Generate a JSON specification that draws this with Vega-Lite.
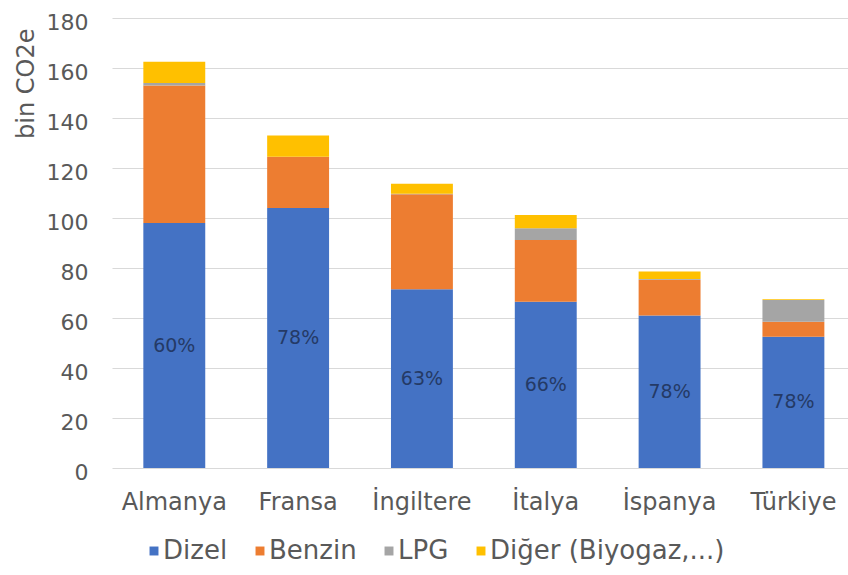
{
  "$schema": "https://vega.github.io/schema/vega-lite/v6.json",
  "width": 736,
  "height": 450,
  "autosize": {"type": "none"},
  "padding": {"left": 112, "top": 18, "right": 0, "bottom": 107},
  "background": "white",
  "config": {
    "view": {"stroke": null},
    "font": "DejaVu Sans"
  },
  "data": {
    "values": [
      {"ulke": "Almanya", "yakit": "Dizel", "sira": 1, "deger": 98, "pay": "60%"},
      {"ulke": "Almanya", "yakit": "Benzin", "sira": 2, "deger": 55},
      {"ulke": "Almanya", "yakit": "LPG", "sira": 3, "deger": 1},
      {"ulke": "Almanya", "yakit": "Diğer (Biyogaz,...)", "sira": 4, "deger": 8.5},
      {"ulke": "Fransa", "yakit": "Dizel", "sira": 1, "deger": 104, "pay": "78%"},
      {"ulke": "Fransa", "yakit": "Benzin", "sira": 2, "deger": 20.5},
      {"ulke": "Fransa", "yakit": "LPG", "sira": 3, "deger": 0},
      {"ulke": "Fransa", "yakit": "Diğer (Biyogaz,...)", "sira": 4, "deger": 8.5},
      {"ulke": "İngiltere", "yakit": "Dizel", "sira": 1, "deger": 71.5, "pay": "63%"},
      {"ulke": "İngiltere", "yakit": "Benzin", "sira": 2, "deger": 38},
      {"ulke": "İngiltere", "yakit": "LPG", "sira": 3, "deger": 0.2},
      {"ulke": "İngiltere", "yakit": "Diğer (Biyogaz,...)", "sira": 4, "deger": 4},
      {"ulke": "İtalya", "yakit": "Dizel", "sira": 1, "deger": 66.5, "pay": "66%"},
      {"ulke": "İtalya", "yakit": "Benzin", "sira": 2, "deger": 24.7},
      {"ulke": "İtalya", "yakit": "LPG", "sira": 3, "deger": 4.7},
      {"ulke": "İtalya", "yakit": "Diğer (Biyogaz,...)", "sira": 4, "deger": 5.3},
      {"ulke": "İspanya", "yakit": "Dizel", "sira": 1, "deger": 61, "pay": "78%"},
      {"ulke": "İspanya", "yakit": "Benzin", "sira": 2, "deger": 14.3},
      {"ulke": "İspanya", "yakit": "LPG", "sira": 3, "deger": 0.3},
      {"ulke": "İspanya", "yakit": "Diğer (Biyogaz,...)", "sira": 4, "deger": 3},
      {"ulke": "Türkiye", "yakit": "Dizel", "sira": 1, "deger": 52.5, "pay": "78%"},
      {"ulke": "Türkiye", "yakit": "Benzin", "sira": 2, "deger": 6},
      {"ulke": "Türkiye", "yakit": "LPG", "sira": 3, "deger": 8.7},
      {"ulke": "Türkiye", "yakit": "Diğer (Biyogaz,...)", "sira": 4, "deger": 0.3}
    ]
  },
  "encoding": {
    "x": {
      "field": "ulke",
      "type": "nominal",
      "sort": null,
      "scale": {"paddingInner": 0.5, "paddingOuter": 0.222, "align": 0.57},
      "axis": {
        "title": null,
        "domain": false,
        "ticks": false,
        "labelAngle": 0,
        "labelFontSize": 24,
        "labelColor": "#595959",
        "labelPadding": 22
      }
    }
  },
  "resolve": {"scale": {"y": "independent"}},
  "layer": [
    {
      "mark": {"type": "bar"},
      "encoding": {
        "y": {
          "field": "deger",
          "type": "quantitative",
          "stack": "zero",
          "scale": {"domain": [0, 180], "nice": false},
          "axis": {
            "title": "bin CO2e",
            "values": [0, 20, 40, 60, 80, 100, 120, 140, 160, 180],
            "domain": false,
            "ticks": false,
            "grid": true,
            "gridColor": "#d9d9d9",
            "gridWidth": 1.2,
            "labelFontSize": 22,
            "labelColor": "#595959",
            "labelPadding": 24,
            "labelOffset": 4,
            "titleFontSize": 24,
            "titleFontWeight": "normal",
            "titleColor": "#595959",
            "titleAngle": -90,
            "titleAlign": "right",
            "titleBaseline": "alphabetic",
            "titleX": -79,
            "titleY": 10
          }
        },
        "order": {"field": "sira", "type": "quantitative", "sort": "ascending"},
        "color": {
          "field": "yakit",
          "type": "nominal",
          "sort": ["Dizel", "Benzin", "LPG", "Diğer (Biyogaz,...)"],
          "scale": {
            "domain": ["Dizel", "Benzin", "LPG", "Diğer (Biyogaz,...)"],
            "range": ["#4472c4", "#ed7d31", "#a5a5a5", "#ffc000"]
          },
          "legend": {
            "title": null,
            "orient": "none",
            "direction": "horizontal",
            "legendX": 29,
            "legendY": 520,
            "padding": 0,
            "symbolType": "square",
            "symbolSize": 80,
            "symbolStrokeWidth": 0,
            "labelFontSize": 26,
            "labelColor": "#595959",
            "labelOffset": -4,
            "labelLimit": 400,
            "columnPadding": 19
          }
        }
      }
    },
    {
      "transform": [{"filter": "datum.yakit === 'Dizel'"}],
      "mark": {
        "type": "text",
        "fontSize": 19,
        "color": "#243a66",
        "baseline": "middle",
        "align": "center"
      },
      "encoding": {
        "y": {
          "field": "deger",
          "type": "quantitative",
          "stack": null,
          "scale": {"domain": [0, 360], "nice": false},
          "axis": null
        },
        "text": {"field": "pay", "type": "nominal"}
      }
    }
  ]
}
